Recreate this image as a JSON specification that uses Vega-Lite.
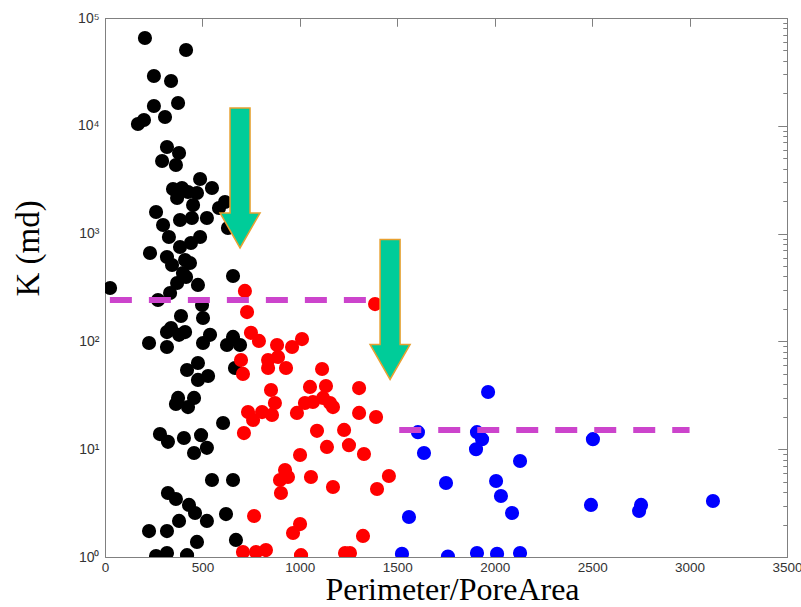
{
  "$schema": "https://vega.github.io/schema/vega-lite/v6.json",
  "width": 682,
  "height": 539,
  "autosize": {"type": "none"},
  "padding": {"left": 105, "top": 18, "right": 14, "bottom": 50},
  "background": "white",
  "config": {
    "view": {"stroke": "#808080", "strokeWidth": 1},
    "axis": {
      "labelFont": "Liberation Sans",
      "labelFontSize": 14,
      "labelColor": "#333333",
      "domainColor": "#808080",
      "tickColor": "#808080",
      "grid": false
    }
  },
  "datasets": {
    "pts": [
      {"p":205,"k":65200,"g":"black"},{"p":416,"k":50500,"g":"black"},{"p":251,"k":28970,"g":"black"},{"p":339,"k":26050,"g":"black"},
      {"p":251,"k":15270,"g":"black"},{"p":375,"k":16270,"g":"black"},{"p":308,"k":12070,"g":"black"},{"p":169,"k":10400,"g":"black"},
      {"p":200,"k":11320,"g":"black"},{"p":318,"k":6360,"g":"black"},{"p":380,"k":5590,"g":"black"},{"p":293,"k":4710,"g":"black"},
      {"p":364,"k":4330,"g":"black"},{"p":349,"k":2590,"g":"black"},{"p":488,"k":3210,"g":"black"},{"p":549,"k":2650,"g":"black"},
      {"p":395,"k":2650,"g":"black"},{"p":426,"k":2430,"g":"black"},{"p":472,"k":2380,"g":"black"},{"p":370,"k":2140,"g":"black"},
      {"p":452,"k":1840,"g":"black"},{"p":262,"k":1585,"g":"black"},{"p":385,"k":1337,"g":"black"},{"p":446,"k":1395,"g":"black"},
      {"p":523,"k":1395,"g":"black"},{"p":585,"k":1727,"g":"black"},{"p":616,"k":1964,"g":"black"},{"p":631,"k":1127,"g":"black"},
      {"p":298,"k":1202,"g":"black"},{"p":328,"k":930,"g":"black"},{"p":488,"k":930,"g":"black"},{"p":441,"k":818,"g":"black"},
      {"p":385,"k":751,"g":"black"},{"p":231,"k":661,"g":"black"},{"p":318,"k":607,"g":"black"},{"p":411,"k":569,"g":"black"},
      {"p":436,"k":534,"g":"black"},{"p":344,"k":511,"g":"black"},{"p":400,"k":431,"g":"black"},{"p":416,"k":396,"g":"black"},
      {"p":370,"k":348,"g":"black"},{"p":477,"k":334,"g":"black"},{"p":657,"k":404,"g":"black"},{"p":26,"k":313,"g":"black"},
      {"p":334,"k":281,"g":"black"},{"p":272,"k":242,"g":"black"},{"p":498,"k":218,"g":"black"},{"p":390,"k":172,"g":"black"},
      {"p":503,"k":165,"g":"black"},{"p":339,"k":133,"g":"black"},{"p":318,"k":122,"g":"black"},{"p":380,"k":115,"g":"black"},
      {"p":411,"k":122,"g":"black"},{"p":226,"k":96.7,"g":"black"},{"p":318,"k":88.7,"g":"black"},{"p":539,"k":115,"g":"black"},
      {"p":503,"k":96.7,"g":"black"},{"p":657,"k":110,"g":"black"},{"p":626,"k":92.6,"g":"black"},{"p":693,"k":92.6,"g":"black"},
      {"p":421,"k":54.3,"g":"black"},{"p":477,"k":63,"g":"black"},{"p":477,"k":43.9,"g":"black"},{"p":529,"k":47.8,"g":"black"},
      {"p":667,"k":56.6,"g":"black"},{"p":375,"k":29.9,"g":"black"},{"p":457,"k":29.9,"g":"black"},{"p":426,"k":24.6,"g":"black"},
      {"p":364,"k":26.3,"g":"black"},{"p":606,"k":17.5,"g":"black"},{"p":282,"k":13.8,"g":"black"},{"p":323,"k":11.7,"g":"black"},
      {"p":405,"k":12.7,"g":"black"},{"p":493,"k":13.5,"g":"black"},{"p":457,"k":9.22,"g":"black"},{"p":523,"k":10.3,"g":"black"},
      {"p":549,"k":5.18,"g":"black"},{"p":657,"k":5.18,"g":"black"},{"p":323,"k":3.92,"g":"black"},{"p":364,"k":3.45,"g":"black"},
      {"p":431,"k":3.04,"g":"black"},{"p":462,"k":2.56,"g":"black"},{"p":380,"k":2.16,"g":"black"},{"p":523,"k":2.16,"g":"black"},
      {"p":621,"k":2.5,"g":"black"},{"p":226,"k":1.74,"g":"black"},{"p":318,"k":1.74,"g":"black"},{"p":472,"k":1.38,"g":"black"},
      {"p":672,"k":1.44,"g":"black"},{"p":262,"k":1.02,"g":"black"},{"p":318,"k":1.09,"g":"black"},{"p":421,"k":1.04,"g":"black"},
      {"p":718,"k":294,"g":"red"},{"p":1386,"k":222,"g":"red"},{"p":729,"k":187,"g":"red"},{"p":749,"k":120,"g":"red"},
      {"p":790,"k":101,"g":"red"},{"p":883,"k":92.6,"g":"red"},{"p":960,"k":88.7,"g":"red"},{"p":1011,"k":105,"g":"red"},
      {"p":698,"k":67.2,"g":"red"},{"p":708,"k":49.9,"g":"red"},{"p":837,"k":67.2,"g":"red"},{"p":888,"k":71.7,"g":"red"},
      {"p":837,"k":56.6,"g":"red"},{"p":929,"k":56.6,"g":"red"},{"p":1114,"k":55.5,"g":"red"},{"p":1052,"k":37.8,"g":"red"},
      {"p":1134,"k":38.6,"g":"red"},{"p":1304,"k":36.9,"g":"red"},{"p":852,"k":35.4,"g":"red"},{"p":872,"k":26.8,"g":"red"},
      {"p":1026,"k":26.8,"g":"red"},{"p":1067,"k":27.4,"g":"red"},{"p":1119,"k":29.9,"g":"red"},{"p":1155,"k":26.8,"g":"red"},
      {"p":1170,"k":24.6,"g":"red"},{"p":985,"k":21.7,"g":"red"},{"p":734,"k":22.1,"g":"red"},{"p":806,"k":22.1,"g":"red"},
      {"p":857,"k":20.8,"g":"red"},{"p":760,"k":18.7,"g":"red"},{"p":1304,"k":21.7,"g":"red"},{"p":1391,"k":19.9,"g":"red"},
      {"p":713,"k":14.1,"g":"red"},{"p":1088,"k":14.8,"g":"red"},{"p":1227,"k":15.1,"g":"red"},{"p":1139,"k":10.5,"g":"red"},
      {"p":1252,"k":10.9,"g":"red"},{"p":1329,"k":9.03,"g":"red"},{"p":1001,"k":8.83,"g":"red"},{"p":924,"k":6.41,"g":"red"},
      {"p":898,"k":5.18,"g":"red"},{"p":939,"k":5.52,"g":"red"},{"p":903,"k":3.92,"g":"red"},{"p":1057,"k":5.52,"g":"red"},
      {"p":1170,"k":4.46,"g":"red"},{"p":1396,"k":4.27,"g":"red"},{"p":1457,"k":5.64,"g":"red"},{"p":765,"k":2.4,"g":"red"},
      {"p":1001,"k":2.02,"g":"red"},{"p":965,"k":1.67,"g":"red"},{"p":1324,"k":1.57,"g":"red"},{"p":708,"k":1.11,"g":"red"},
      {"p":775,"k":1.11,"g":"red"},{"p":826,"k":1.16,"g":"red"},{"p":1006,"k":1.04,"g":"red"},{"p":1232,"k":1.09,"g":"red"},
      {"p":1257,"k":1.09,"g":"red"},
      {"p":1966,"k":33.9,"g":"blue"},{"p":1606,"k":14.4,"g":"blue"},{"p":1909,"k":14.4,"g":"blue"},{"p":1935,"k":12.4,"g":"blue"},
      {"p":1904,"k":10,"g":"blue"},{"p":1637,"k":9.22,"g":"blue"},{"p":2130,"k":7.78,"g":"blue"},{"p":2504,"k":12.4,"g":"blue"},
      {"p":1750,"k":4.86,"g":"blue"},{"p":2007,"k":5.07,"g":"blue"},{"p":2032,"k":3.68,"g":"blue"},{"p":2089,"k":2.56,"g":"blue"},
      {"p":1560,"k":2.35,"g":"blue"},{"p":2494,"k":3.04,"g":"blue"},{"p":2751,"k":3.04,"g":"blue"},{"p":2741,"k":2.67,"g":"blue"},
      {"p":3120,"k":3.31,"g":"blue"},{"p":1524,"k":1.07,"g":"blue"},{"p":1760,"k":1.01,"g":"blue"},{"p":1909,"k":1.09,"g":"blue"},
      {"p":2012,"k":1.07,"g":"blue"},{"p":2130,"k":1.09,"g":"blue"}
    ],
    "dashes": [
      {"p1": 25, "p2": 1505, "k": 242},
      {"p1": 1510, "p2": 3000, "k": 15.1}
    ],
    "arrows": [
      {"p": 693, "k": 3280},
      {"p": 1463, "k": 198}
    ]
  },
  "resolve": {"axis": {"x": "independent", "y": "independent"}},
  "layer": [
    {
      "data": {"name": "pts"},
      "mark": {"type": "point", "filled": true, "shape": "circle", "size": 200, "opacity": 1, "clip": true},
      "encoding": {
        "x": {
          "field": "p", "type": "quantitative",
          "scale": {"domain": [0, 3500], "nice": false, "zero": false},
          "axis": {
            "values": [0, 500, 1000, 1500, 2000, 2500, 3000, 3500],
            "format": "d",
            "ticks": false,
            "labelPadding": 3,
            "labelFontSize": 13.5,
            "labelFlush": false,
            "title": "Perimeter/PoreArea",
            "titleFont": "Liberation Serif",
            "titleFontSize": 32,
            "titleFontWeight": "normal",
            "titleColor": "#000000",
            "titleBaseline": "alphabetic",
            "titleX": 347,
            "titleY": 42
          }
        },
        "y": {
          "field": "k", "type": "quantitative",
          "scale": {"type": "log", "domain": [1, 100000], "nice": false},
          "axis": {
            "values": [1, 10, 100, 1000, 10000, 100000],
            "labelExpr": "'10' + ['⁰','¹','²','³','⁴','⁵'][round(log(datum.value)/LN10)]",
            "ticks": false,
            "labelPadding": 6,
            "labelFlush": false,
            "labelOverlap": false,
            "title": "K (md)",
            "titleFont": "Liberation Serif",
            "titleFontSize": 33,
            "titleFontWeight": "normal",
            "titleColor": "#000000",
            "titleAngle": -90,
            "titleAlign": "center",
            "titleBaseline": "middle",
            "titleX": -77,
            "titleY": 230
          }
        },
        "color": {
          "field": "g", "type": "nominal",
          "scale": {"domain": ["black", "red", "blue"], "range": ["#000000", "#ff0000", "#0000ff"]},
          "legend": null
        }
      }
    },
    {
      "data": {"name": "dashes"},
      "mark": {"type": "rule", "color": "#CC44CC", "strokeWidth": 6, "strokeDash": [22, 17]},
      "encoding": {
        "x": {
          "field": "p1", "type": "quantitative",
          "axis": {"values": [0, 500, 1000, 1500, 2000, 2500, 3000, 3500], "labels": false, "domain": false, "tickSize": -8, "title": null}
        },
        "x2": {"field": "p2"},
        "y": {
          "field": "k", "type": "quantitative",
          "axis": {
            "values": [1,2,3,4,5,6,7,8,9,10,20,30,40,50,60,70,80,90,100,200,300,400,500,600,700,800,900,1000,2000,3000,4000,5000,6000,7000,8000,9000,10000,20000,30000,40000,50000,60000,70000,80000,90000,100000],
            "labels": false,
            "domain": false,
            "tickSize": {"condition": {"test": "abs(log(datum.value)/LN10 - round(log(datum.value)/LN10)) < 0.001", "value": -9}, "value": -4},
            "title": null
          }
        }
      }
    },
    {
      "data": {"name": "arrows"},
      "mark": {
        "type": "point", "filled": true,
        "shape": "M-0.143,-1L0.143,-1L0.143,0.5L0.286,0.5L0,1L-0.286,0.5L-0.143,0.5Z",
        "size": 19600, "fill": "#00CC99", "stroke": "#E8A030", "strokeWidth": 1.5, "opacity": 1, "fillOpacity": 1, "strokeOpacity": 1
      },
      "encoding": {
        "x": {"field": "p", "type": "quantitative", "axis": null},
        "y": {"field": "k", "type": "quantitative", "axis": null}
      }
    },
    {
      "data": {"name": "arrows"},
      "mark": {"type": "point", "opacity": 0},
      "encoding": {
        "x": {
          "field": "p", "type": "quantitative",
          "axis": {"orient": "top", "values": [0, 500, 1000, 1500, 2000, 2500, 3000, 3500], "labels": false, "tickSize": -8, "title": null}
        },
        "y": {
          "field": "k", "type": "quantitative",
          "axis": {
            "orient": "right",
            "values": [1,2,3,4,5,6,7,8,9,10,20,30,40,50,60,70,80,90,100,200,300,400,500,600,700,800,900,1000,2000,3000,4000,5000,6000,7000,8000,9000,10000,20000,30000,40000,50000,60000,70000,80000,90000,100000],
            "labels": false,
            "tickSize": {"condition": {"test": "abs(log(datum.value)/LN10 - round(log(datum.value)/LN10)) < 0.001", "value": -9}, "value": -4},
            "title": null
          }
        }
      }
    }
  ]
}
